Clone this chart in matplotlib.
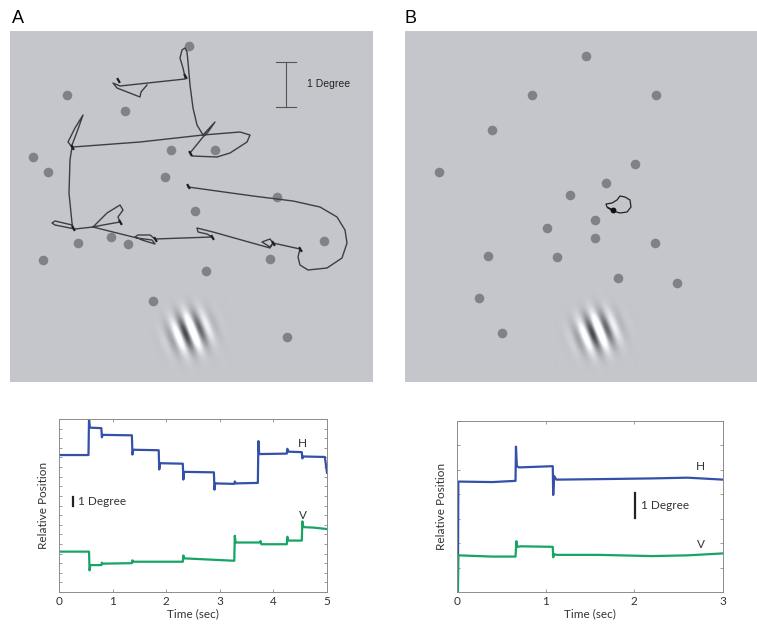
import matplotlib

matplotlib.use("Agg")

import matplotlib.pyplot as plt
import numpy as np

# --- stimulus display (local screen pixels, origin top-left) ---
DISPLAY_A_SIZE = (363, 351)
DISPLAY_B_SIZE = (352, 351)

targets_a_x = [179, 57, 115, 161, 205, 23, 38, 155, 267, 185, 101, 68, 118, 314, 33, 260, 196, 143, 277]
targets_a_y = [15, 64, 80, 119, 119, 126, 141, 146, 166, 180, 206, 212, 213, 210, 229, 228, 240, 270, 306]

targets_b_x = [181, 127, 251, 87, 34, 230, 201, 165, 190, 142, 190, 250, 83, 152, 213, 272, 74, 97]
targets_b_y = [25, 64, 64, 99, 141, 133, 152, 164, 189, 197, 207, 212, 225, 226, 247, 252, 267, 302]

gabor_a_center = (180, 301)
gabor_b_center = (192, 301)

# free search scan path (condition A)
scan_a_x = [
    178, 243, 283, 310, 327, 335, 337, 332, 317, 298, 290, 288, 290,
    263, 260, 252, 260, 263, 260,
    203, 187, 188, 197, 202,
    145, 140, 128, 125, 132, 145, 142, 127, 83,
    97, 110, 113, 108, 110, 93, 83, 65,
    45, 42, 45, 62, 63,
    62, 59, 60, 62,
    58, 65, 73, 67, 62,
    63, 130, 193,
    205, 198, 193, 180, 182, 207, 220, 237, 240, 230, 193,
    187, 183, 180, 178, 177, 175, 172, 170, 173, 175,
    175, 110, 103, 107, 130, 131, 137,
]
scan_a_y = [
    156, 165, 170, 176, 186, 199, 212, 227, 237, 239, 234, 226, 218,
    212, 216, 211, 208, 212, 217,
    201, 197, 201, 203, 206,
    208, 204, 204, 206, 209, 213, 209, 207, 196,
    182, 174, 179, 186, 191, 194, 196, 198,
    194, 192, 190, 194, 197,
    192, 162, 129, 116,
    111, 97, 84, 101, 114,
    116, 111, 104,
    91, 101, 106, 122, 125, 126, 122, 111, 104, 101, 104,
    94, 77, 54, 31, 21, 17, 19, 27, 37, 46,
    48, 55, 52, 57, 66, 61, 54,
]
fix_a_x = [178, 290, 263, 202, 145, 110, 63, 62, 180, 175, 108]
fix_a_y = [155, 218, 212, 206, 208, 191, 197, 116, 122, 45, 49]

# fixation held on the centre (condition B)
scan_b_x = [208, 202, 201, 207, 212, 215, 220, 225, 226, 222, 215, 208, 203]
scan_b_y = [179, 176, 173, 172, 169, 165, 166, 169, 176, 181, 182, 180, 177]

# --- eye position traces (degrees) ---
h_a_t = [0, 0.55, 0.56, 0.575, 0.79, 0.80, 0.815, 1.36, 1.37, 1.385, 1.86, 1.87, 1.885, 2.31, 2.32, 2.335,
         2.89, 2.90, 2.915, 3.27, 3.28, 3.30, 3.71, 3.72, 3.735, 4.25, 4.26, 4.28, 4.53, 4.54, 4.56, 4.96, 5.0]
h_a_y = [14.25, 14.25, 18.0, 17.1, 17.05, 16.1, 16.35, 16.3, 14.3, 14.8, 14.75, 12.75, 13.4, 13.35, 11.7, 12.5,
         12.45, 10.65, 11.3, 11.25, 11.5, 11.3, 11.35, 15.7, 14.35, 14.4, 14.9, 14.6, 14.55, 13.9, 14.1, 14.05, 12.4]
v_a_t = [0, 0.56, 0.57, 0.585, 0.79, 0.80, 0.815, 1.36, 1.37, 1.385, 2.31, 2.32, 2.335, 3.27, 3.28, 3.295,
         3.75, 3.76, 3.775, 4.25, 4.26, 4.275, 4.53, 4.54, 4.56, 4.75, 5.0]
v_a_y = [4.2, 4.2, 2.25, 2.8, 2.8, 3.05, 2.95, 3.0, 3.3, 3.15, 3.15, 3.8, 3.5, 3.25, 5.85, 5.15,
         5.15, 5.3, 4.97, 4.97, 5.75, 5.35, 5.35, 7.35, 6.75, 6.7, 6.55]

h_b_t = [0.01, 0.015, 0.4, 0.66, 0.665, 0.675, 0.70, 1.08, 1.085, 1.095, 1.12, 1.6, 2.2, 2.6, 3.0]
h_b_y = [0, 4.52, 4.5, 4.55, 5.95, 5.15, 5.1, 5.15, 3.97, 4.75, 4.6, 4.62, 4.65, 4.68, 4.6]
v_b_t = [0.01, 0.015, 0.4, 0.66, 0.67, 0.68, 0.72, 1.08, 1.085, 1.095, 1.12, 1.6, 2.2, 2.6, 3.0]
v_b_y = [0, 1.5, 1.45, 1.45, 2.08, 1.85, 1.87, 1.85, 1.42, 1.55, 1.52, 1.52, 1.47, 1.5, 1.58]

BG = np.array([196, 198, 203]) / 255.0
DOT_COLOR = "#7f8288"
TRACE_COLOR = "#3b3e42"
H_COLOR = "#3550a8"
V_COLOR = "#16a565"
AXIS_GRAY = "#8c8c8c"
TOP_FONT = "Liberation Sans"
BOTTOM_FONT = "Lato"


def gabor_patch(radius=42, wavelength=16.0, sigma=12.5, tilt_deg=22.0, amp=0.55, shift=5.0):
    coords = np.arange(-radius, radius + 1)
    xx, yy = np.meshgrid(coords, coords)
    th = np.deg2rad(tilt_deg)
    u = np.cos(th) * xx - np.sin(th) * yy
    env = np.exp(-(xx ** 2 + yy ** 2) / (2 * sigma ** 2))
    carrier = -np.cos(2 * np.pi * (u + shift) / wavelength)
    img = BG[None, None, :] + (amp * env * carrier)[:, :, None]
    return np.clip(img, 0, 1), radius


def draw_display(ax, size, tx, ty, gabor_center):
    w, h = size
    ax.set_facecolor(BG)
    ax.set_xticks([])
    ax.set_yticks([])
    for s in ax.spines.values():
        s.set_visible(False)

    img, r = gabor_patch()
    cx, cy = gabor_center
    ax.imshow(img, extent=(cx - r, cx + r, cy + r, cy - r), aspect="auto",
              interpolation="bilinear", zorder=1)
    ax.set_xlim(0, w)
    ax.set_ylim(h, 0)
    ax.scatter(tx, ty, s=48, color=DOT_COLOR, linewidths=0, zorder=2)


def style_trace_axes(ax, xmax, ymax):
    ax.set_xlim(0, xmax)
    ax.set_ylim(0, ymax)
    ax.set_xticks(range(0, xmax + 1))
    ax.set_yticks(range(0, ymax + 1))
    ax.set_yticklabels([])
    ax.tick_params(direction="in", length=2.5, width=0.6, color=AXIS_GRAY,
                   top=True, right=True, labelsize=8.5, labelcolor="#333333", pad=3)
    for s in ax.spines.values():
        s.set_color(AXIS_GRAY)
        s.set_linewidth(0.7)
    for lab in ax.get_xticklabels():
        lab.set_family(BOTTOM_FONT)
    ax.set_xlabel("Time (sec)", fontsize=8.5, family=BOTTOM_FONT, color="#333333", labelpad=1)
    ax.set_ylabel("Relative Position", fontsize=8.5, family=BOTTOM_FONT, color="#333333", labelpad=4)


fig = plt.figure(figsize=(7.57, 6.29), dpi=100)
W, H = 757.0, 629.0

ax_a = fig.add_axes([10 / W, 1 - 382 / H, 363 / W, 351 / H])
ax_b = fig.add_axes([405 / W, 1 - 382 / H, 352 / W, 351 / H])

draw_display(ax_a, DISPLAY_A_SIZE, targets_a_x, targets_a_y, gabor_a_center)
ax_a.plot(scan_a_x, scan_a_y, color=TRACE_COLOR, lw=1.0, zorder=3)
ax_a.plot(fix_a_x, fix_a_y, marker=(2, 0, 30), ms=4, mew=1.6, ls="none", color="#1e1e1e", zorder=4)

# 1 degree calibration bar
ax_a.plot([276, 276], [31, 76], color="#555555", lw=0.8, zorder=3)
ax_a.plot([266, 286], [31, 31], color="#555555", lw=0.8, zorder=3)
ax_a.plot([266, 286], [76, 76], color="#555555", lw=0.8, zorder=3)
ax_a.text(297, 53, "1 Degree", fontsize=7.5, family=TOP_FONT, color="#222222", va="center")

draw_display(ax_b, DISPLAY_B_SIZE, targets_b_x, targets_b_y, gabor_b_center)
ax_b.plot(scan_b_x, scan_b_y, color="#222222", lw=0.9, zorder=3)
ax_b.plot(scan_b_x[:1], scan_b_y[:1], "o", ms=3.2, color="#111111", zorder=4)

fig.text(12 / W, 1 - 23 / H, "A", fontsize=13, family=TOP_FONT, va="baseline")
fig.text(405 / W, 1 - 23 / H, "B", fontsize=13, family=TOP_FONT, va="baseline")

# eye position over time
ax_c = fig.add_axes([59 / W, 37 / H, 268 / W, 173 / H])
ax_c.plot(h_a_t, h_a_y, color=H_COLOR, lw=1.6)
ax_c.plot(v_a_t, v_a_y, color=V_COLOR, lw=1.6)
style_trace_axes(ax_c, 5, 18)
ax_c.text(4.55, 15.5, "H", fontsize=8.5, family=BOTTOM_FONT, color="#333333", ha="center", va="center")
ax_c.text(4.56, 8.0, "V", fontsize=8.5, family=BOTTOM_FONT, color="#333333", ha="center", va="center")
ax_c.plot([0.27, 0.27], [8.9, 9.9], color="#222222", lw=1.6)
ax_c.text(0.36, 9.4, "1 Degree", fontsize=8.5, family=BOTTOM_FONT, color="#333333", va="center")

ax_d = fig.add_axes([457 / W, 37 / H, 266 / W, 171 / H])
ax_d.plot(h_b_t, h_b_y, color=H_COLOR, lw=1.6)
ax_d.plot(v_b_t, v_b_y, color=V_COLOR, lw=1.6)
style_trace_axes(ax_d, 3, 7)
ax_d.text(2.75, 5.15, "H", fontsize=8.5, family=BOTTOM_FONT, color="#333333", ha="center", va="center")
ax_d.text(2.75, 1.95, "V", fontsize=8.5, family=BOTTOM_FONT, color="#333333", ha="center", va="center")
ax_d.plot([2.01, 2.01], [3.04, 4.04], color="#222222", lw=1.6)
ax_d.text(2.08, 3.55, "1 Degree", fontsize=8.5, family=BOTTOM_FONT, color="#333333", va="center")

fig.savefig("out.png", dpi=100)
